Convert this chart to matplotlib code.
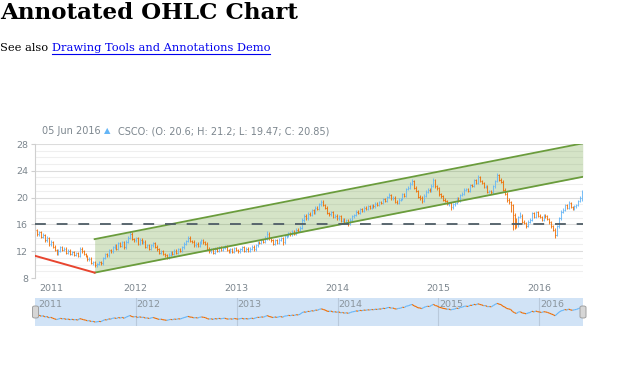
import matplotlib
matplotlib.use("Agg")
import matplotlib.pyplot as plt
import matplotlib.dates as mdates
import matplotlib.transforms as mtrans
from matplotlib.collections import LineCollection
from matplotlib.patches import FancyBboxPatch, Rectangle
import numpy as np
import pandas as pd

# ---------------- data (weekly CSCO) ----------------
opens = [
    15.3, 15.1, 14.5, 14.8, 14.1, 14.4, 13.6, 13.9, 13.0, 13.3,
    12.7, 12.2, 11.7, 12.1, 12.6, 12.2, 12.4, 11.8, 12.1, 11.6,
    11.9, 11.5, 11.7, 11.3, 12.4, 12.0, 11.6, 11.3, 10.8, 10.9,
    10.3, 10.4, 9.9, 10.1, 10.4, 10.2, 11.0, 11.6, 11.4, 12.2,
    12.0, 12.6, 12.9, 12.4, 13.2, 12.8, 13.3, 12.6, 13.4, 14.0,
    14.6, 13.8, 13.6, 13.9, 13.1, 13.7, 13.2, 13.4, 12.7, 12.9,
    12.4, 12.9, 13.2, 12.7, 12.3, 11.8, 12.0, 11.6, 11.4, 11.1,
    11.5, 11.8, 11.6, 12.1, 11.8, 12.3, 12.1, 12.6, 13.1, 13.5,
    14.0, 13.5, 13.4, 12.9, 13.1, 12.8, 13.3, 13.6, 13.3, 13.1,
    12.4, 12.0, 12.3, 11.8, 12.4, 12.1, 12.6, 12.2, 12.5, 12.7,
    12.2, 12.0, 12.3, 11.9, 12.5, 12.2, 12.0, 12.3, 12.6, 12.1,
    12.4, 12.1, 12.4, 12.7, 12.3, 12.9, 13.3, 13.2, 13.6, 13.4,
    13.9, 14.6, 13.9, 13.6, 13.1, 13.6, 13.2, 13.7, 13.9, 13.3,
    14.2, 14.3, 14.7, 14.5, 14.9, 14.6, 15.2, 15.0, 15.5, 16.6,
    17.2, 16.9, 17.6, 17.4, 18.1, 17.7, 18.5, 18.3, 19.0, 19.4,
    18.9, 18.5, 17.7, 17.5, 17.8, 17.1, 17.3, 16.9, 17.2, 16.5,
    16.8, 16.2, 16.6, 16.1, 16.7, 17.2, 17.4, 17.9, 17.7, 18.3,
    18.0, 18.5, 18.3, 18.7, 18.5, 18.9, 18.7, 19.1, 18.9, 19.3,
    19.2, 19.8, 19.5, 20.1, 20.4, 19.9, 20.0, 19.4, 19.2, 19.7,
    19.8, 20.5, 20.3, 21.3, 21.5, 22.1, 22.5, 21.5, 21.0, 20.1,
    20.0, 19.5, 20.3, 20.9, 21.2, 21.0, 21.8, 22.6, 21.7, 21.4,
    20.5, 20.2, 19.7, 19.5, 19.1, 19.2, 18.6, 19.0, 19.2, 19.9,
    19.5, 20.4, 20.6, 21.2, 21.3, 21.0, 21.9, 21.8, 22.6, 22.2,
    23.0, 22.5, 22.2, 21.6, 21.7, 20.9, 21.0, 20.8, 21.7, 22.5,
    23.3, 22.7, 22.4, 21.2, 20.6, 19.6, 19.3, 18.9, 17.4, 16.6,
    16.0, 17.1, 17.3, 16.4, 16.2, 15.8, 16.4, 16.7, 17.7, 17.1,
    17.8, 17.3, 17.1, 16.7, 17.3, 17.2, 16.8, 16.3, 15.7, 15.2,
    14.4, 15.7, 16.9, 17.9, 18.2, 18.9, 18.5, 19.2, 18.6, 18.3,
    18.7, 18.9, 19.5, 20.6,
]
highs = [
    15.6, 15.3, 15.0, 15.0, 14.7, 14.6, 14.2, 14.1, 13.6, 13.5,
    12.9, 12.4, 12.3, 12.8, 12.8, 12.6, 12.6, 12.3, 12.3, 12.1,
    12.1, 11.9, 11.9, 12.6, 12.6, 12.2, 11.8, 11.5, 11.1, 11.1,
    10.6, 10.6, 10.3, 10.6, 10.6, 11.2, 11.8, 11.8, 12.4, 12.4,
    12.8, 13.1, 13.1, 13.4, 13.4, 13.5, 13.5, 13.6, 14.3, 15.0,
    14.8, 14.0, 14.1, 14.1, 13.9, 13.9, 13.6, 13.6, 13.1, 13.1,
    13.1, 13.4, 13.4, 12.9, 12.5, 12.2, 12.2, 11.8, 11.6, 11.7,
    12.0, 12.0, 12.3, 12.3, 12.5, 12.5, 12.8, 13.3, 13.7, 14.3,
    14.2, 13.7, 13.6, 13.3, 13.3, 13.5, 13.8, 13.8, 13.5, 13.3,
    12.6, 12.5, 12.5, 12.6, 12.6, 12.8, 12.8, 12.7, 12.9, 12.9,
    12.4, 12.5, 12.5, 12.7, 12.7, 12.4, 12.5, 12.8, 12.8, 12.6,
    12.6, 12.6, 12.9, 12.9, 13.1, 13.5, 13.5, 13.8, 13.8, 14.2,
    15.0, 14.8, 14.1, 13.8, 13.8, 13.8, 13.9, 14.1, 14.1, 14.4,
    14.6, 14.9, 14.9, 15.1, 15.1, 15.4, 15.4, 15.8, 16.9, 17.5,
    17.5, 17.8, 17.8, 18.3, 18.3, 18.7, 18.7, 19.2, 19.7, 19.6,
    19.1, 18.7, 17.9, 18.0, 18.0, 17.5, 17.5, 17.4, 17.4, 17.0,
    17.0, 16.8, 16.8, 16.9, 17.4, 17.6, 18.1, 18.1, 18.5, 18.5,
    18.7, 18.7, 18.9, 18.9, 19.1, 19.1, 19.3, 19.3, 19.5, 19.5,
    20.0, 20.0, 20.3, 20.7, 20.6, 20.2, 20.2, 19.6, 19.9, 20.0,
    20.7, 20.7, 21.5, 21.7, 22.3, 22.8, 22.7, 21.7, 21.2, 20.4,
    20.2, 20.5, 21.1, 21.4, 21.4, 22.0, 22.9, 22.8, 21.9, 21.6,
    20.7, 20.4, 19.9, 19.7, 19.4, 19.4, 19.2, 19.4, 20.1, 20.1,
    20.6, 20.8, 21.4, 21.5, 21.5, 22.1, 22.1, 22.8, 22.8, 23.3,
    23.2, 22.7, 22.4, 21.9, 21.9, 21.2, 21.2, 21.9, 22.7, 23.6,
    23.5, 22.9, 22.6, 21.4, 20.8, 19.9, 19.5, 19.1, 17.7, 16.9,
    17.3, 17.9, 17.5, 16.6, 16.4, 16.6, 16.9, 17.9, 17.9, 18.0,
    18.0, 17.5, 17.3, 17.5, 17.6, 17.4, 17.0, 16.5, 15.9, 15.4,
    15.9, 17.1, 18.1, 18.4, 19.1, 19.1, 19.5, 19.4, 18.8, 18.9,
    19.1, 19.7, 20.3, 21.2,
]
lows = [
    14.8, 14.3, 14.3, 13.9, 13.9, 13.4, 13.4, 12.8, 12.8, 12.5,
    12.0, 11.5, 11.5, 11.9, 12.0, 12.0, 11.6, 11.6, 11.4, 11.4,
    11.3, 11.3, 11.1, 11.2, 11.8, 11.4, 11.1, 10.6, 10.5, 10.1,
    10.0, 9.7, 9.6, 9.9, 10.0, 10.0, 10.8, 11.2, 11.2, 11.8,
    11.8, 12.4, 12.2, 12.2, 12.6, 12.6, 12.4, 12.4, 13.2, 13.8,
    13.6, 13.4, 13.4, 12.9, 12.9, 13.0, 13.0, 12.5, 12.5, 12.2,
    12.2, 12.7, 12.5, 12.1, 11.6, 11.6, 11.4, 11.2, 10.9, 10.9,
    11.3, 11.4, 11.4, 11.6, 11.6, 11.9, 11.9, 12.4, 12.9, 13.3,
    13.3, 13.2, 12.7, 12.7, 12.6, 12.6, 13.1, 13.1, 12.9, 12.2,
    11.8, 11.8, 11.6, 11.6, 11.9, 11.9, 12.0, 12.0, 12.3, 12.0,
    11.8, 11.8, 11.7, 11.7, 12.0, 11.8, 11.8, 12.1, 11.9, 11.9,
    11.9, 11.9, 12.2, 12.1, 12.1, 12.7, 13.0, 13.0, 13.2, 13.2,
    13.7, 13.7, 13.4, 12.9, 12.9, 13.0, 13.0, 13.5, 12.9, 13.1,
    13.9, 14.1, 14.3, 14.3, 14.4, 14.4, 14.8, 14.8, 15.3, 16.4,
    16.7, 16.7, 17.2, 17.2, 17.5, 17.5, 18.1, 18.1, 18.8, 18.7,
    18.3, 17.5, 17.3, 17.3, 16.9, 16.9, 16.7, 16.7, 16.3, 16.3,
    16.0, 16.0, 15.8, 15.9, 16.5, 17.0, 17.2, 17.5, 17.5, 17.8,
    17.8, 18.1, 18.1, 18.3, 18.3, 18.5, 18.5, 18.7, 18.7, 19.0,
    19.0, 19.3, 19.3, 19.9, 19.7, 19.7, 19.2, 19.0, 19.0, 19.5,
    19.6, 20.1, 20.1, 21.1, 21.3, 21.9, 21.3, 20.8, 19.9, 19.7,
    19.2, 19.3, 20.1, 20.7, 20.8, 20.8, 21.6, 21.5, 21.2, 20.3,
    20.0, 19.5, 19.3, 18.9, 18.8, 18.1, 18.3, 18.8, 19.0, 19.3,
    19.3, 20.2, 20.4, 21.0, 20.8, 20.8, 21.6, 21.6, 22.0, 22.0,
    22.3, 22.0, 21.4, 21.4, 20.7, 20.7, 20.5, 20.6, 21.5, 22.3,
    22.5, 22.2, 21.0, 20.4, 19.4, 19.1, 17.9, 15.2, 15.3, 15.4,
    15.6, 16.9, 16.2, 16.0, 15.4, 15.6, 16.2, 16.5, 16.9, 16.9,
    17.1, 16.9, 16.5, 16.5, 17.0, 16.6, 16.1, 15.5, 15.0, 13.9,
    14.2, 15.5, 16.7, 17.7, 18.0, 18.3, 18.3, 18.4, 18.1, 18.1,
    18.5, 18.7, 19.3, 19.47,
]
closes = [
    15.1, 14.5, 14.8, 14.1, 14.4, 13.6, 13.9, 13.0, 13.3, 12.7,
    12.2, 11.7, 12.1, 12.6, 12.2, 12.4, 11.8, 12.1, 11.6, 11.9,
    11.5, 11.7, 11.3, 12.4, 12.0, 11.6, 11.3, 10.8, 10.9, 10.3,
    10.4, 9.9, 10.1, 10.4, 10.2, 11.0, 11.6, 11.4, 12.2, 12.0,
    12.6, 12.9, 12.4, 13.2, 12.8, 13.3, 12.6, 13.4, 14.0, 14.6,
    13.8, 13.6, 13.9, 13.1, 13.7, 13.2, 13.4, 12.7, 12.9, 12.4,
    12.9, 13.2, 12.7, 12.3, 11.8, 12.0, 11.6, 11.4, 11.1, 11.5,
    11.8, 11.6, 12.1, 11.8, 12.3, 12.1, 12.6, 13.1, 13.5, 14.0,
    13.5, 13.4, 12.9, 13.1, 12.8, 13.3, 13.6, 13.3, 13.1, 12.4,
    12.0, 12.3, 11.8, 12.4, 12.1, 12.6, 12.2, 12.5, 12.7, 12.2,
    12.0, 12.3, 11.9, 12.5, 12.2, 12.0, 12.3, 12.6, 12.1, 12.4,
    12.1, 12.4, 12.7, 12.3, 12.9, 13.3, 13.2, 13.6, 13.4, 13.9,
    14.6, 13.9, 13.6, 13.1, 13.6, 13.2, 13.7, 13.9, 13.3, 14.2,
    14.3, 14.7, 14.5, 14.9, 14.6, 15.2, 15.0, 15.5, 16.6, 17.2,
    16.9, 17.6, 17.4, 18.1, 17.7, 18.5, 18.3, 19.0, 19.4, 18.9,
    18.5, 17.7, 17.5, 17.8, 17.1, 17.3, 16.9, 17.2, 16.5, 16.8,
    16.2, 16.6, 16.1, 16.7, 17.2, 17.4, 17.9, 17.7, 18.3, 18.0,
    18.5, 18.3, 18.7, 18.5, 18.9, 18.7, 19.1, 18.9, 19.3, 19.2,
    19.8, 19.5, 20.1, 20.4, 19.9, 20.0, 19.4, 19.2, 19.7, 19.8,
    20.5, 20.3, 21.3, 21.5, 22.1, 22.5, 21.5, 21.0, 20.1, 20.0,
    19.5, 20.3, 20.9, 21.2, 21.0, 21.8, 22.6, 21.7, 21.4, 20.5,
    20.2, 19.7, 19.5, 19.1, 19.2, 18.6, 19.0, 19.2, 19.9, 19.5,
    20.4, 20.6, 21.2, 21.3, 21.0, 21.9, 21.8, 22.6, 22.2, 23.0,
    22.5, 22.2, 21.6, 21.7, 20.9, 21.0, 20.8, 21.7, 22.5, 23.3,
    22.7, 22.4, 21.2, 20.6, 19.6, 19.3, 18.9, 17.4, 16.6, 16.0,
    17.1, 17.3, 16.4, 16.2, 15.8, 16.4, 16.7, 17.7, 17.1, 17.8,
    17.3, 17.1, 16.7, 17.3, 17.2, 16.8, 16.3, 15.7, 15.2, 14.4,
    15.7, 16.9, 17.9, 18.2, 18.9, 18.5, 19.2, 18.6, 18.3, 18.7,
    18.9, 19.5, 20.0, 20.85,
]
dates = pd.date_range("2011-01-02", periods=len(closes), freq="W-SUN")

# annotations (date, value)
trend_dates = ["2011-01-02", "2011-08-05"]
trend_values = [11.3, 8.8]
channel_dates = ["2011-08-05", "2016-06-07"]
channel_low = [8.8, 23.1]
channel_high = [13.8, 28.1]
hline_value = 16

year_labels = ["2011", "2012", "2013", "2014", "2015", "2016"]
y_ticks = [8, 12, 16, 20, 24, 28]

RISE = "#64b5f6"
FALL = "#ef6c00"
GRAY = "#7c868e"

# ---------------- figure ----------------
W, H = 620, 367
fig = plt.figure(figsize=(W / 100, H / 100), dpi=100)
fig.patch.set_facecolor("white")

def fx(px):
    return px / W

def fy(py):
    return 1 - py / H

fig.text(fx(0), fy(13), "Annotated OHLC Chart", family="DejaVu Serif",
         weight="bold", fontsize=16.6, va="center", ha="left", color="black")
t1 = fig.text(fx(0), fy(48), "See also ", family="DejaVu Serif", fontsize=8.2,
              va="center", ha="left", color="black")
fig.canvas.draw()
bb = t1.get_window_extent()
link = fig.text(bb.x1 / W, fy(48), "Drawing Tools and Annotations Demo",
                family="DejaVu Serif", fontsize=8.2, va="center", ha="left",
                color="#0000ee")
fig.canvas.draw()
lb = link.get_window_extent()
fig.add_artist(plt.Line2D([lb.x0 / W, lb.x1 / W], [fy(54), fy(54)],
                          color="#0000ee", lw=0.8))

# ---------------- main plot ----------------
L, R, T, B = 35, 583, 144, 278
ax = fig.add_axes([fx(L), fy(B), (R - L) / W, (B - T) / H])
xd = mdates.date2num(dates)
ax.set_xlim(xd[0] - 1, xd[-1] + 3)
ax.set_ylim(8, 28)

for v in np.arange(8, 29, 1):
    major = (v % 4 == 0)
    ax.axhline(v, color="#dcdcdc" if major else "#efefef", lw=0.8, zorder=0)

# channel annotation
cx = mdates.datestr2num(channel_dates)
ax.fill_between(cx, channel_low, channel_high, color="#689f38", alpha=0.28,
                lw=0, zorder=1)
ax.plot(cx, channel_low, color="#6a9c3c", lw=1.3, zorder=3)
ax.plot(cx, channel_high, color="#6a9c3c", lw=1.3, zorder=3)
# trend line
ax.plot(mdates.datestr2num(trend_dates), trend_values, color="#e8452f",
        lw=1.4, zorder=3)
# dashed horizontal line
ax.axhline(hline_value, color="#4f5d66", lw=1.3, dashes=(6, 6), zorder=3)

# OHLC bars
segs, cols = [], []
w = 2.2
for x, o, h, l, c in zip(xd, opens, highs, lows, closes):
    col = RISE if c >= o else FALL
    segs += [[(x, l), (x, h)], [(x - w, o), (x, o)], [(x, c), (x + w, c)]]
    cols += [col] * 3
ax.add_collection(LineCollection(segs, colors=cols, linewidths=0.75,
                                 alpha=0.85, zorder=2))

for s in ["top", "right", "bottom"]:
    ax.spines[s].set_visible(False)
ax.spines["left"].set_color("#cfcfcf")
ax.spines["left"].set_linewidth(0.8)
ax.set_yticks(y_ticks)
ax.tick_params(axis="y", length=3, color="#cfcfcf", labelcolor=GRAY,
               labelsize=6.8, pad=2)
year_pos = [xd[0]] + [mdates.datestr2num(f"{y}-01-01") for y in year_labels[1:]]
ax.set_xticks(year_pos)
ax.set_xticklabels(year_labels)
ax.tick_params(axis="x", length=0, labelcolor=GRAY, labelsize=6.8, pad=4)
first = ax.get_xticklabels()[0]
first.set_horizontalalignment("left")
first.set_transform(first.get_transform() +
                    mtrans.ScaledTranslation(4 / 100, 0, fig.dpi_scale_trans))

# legend line
fig.text(fx(42), fy(131), "05 Jun 2016", color=GRAY, fontsize=7, va="center", ha="left")
fig.text(fx(107), fy(130.5), "\u25B2", color=RISE, fontsize=6, va="center", ha="center")
fig.text(fx(118), fy(131), "CSCO: (O: 20.6; H: 21.2; L: 19.47; C: 20.85)",
         color=GRAY, fontsize=7, va="center", ha="left")

# ---------------- scroller ----------------
ST, SB = 298, 326
sx = fig.add_axes([fx(L), fy(SB), (R - L) / W, (SB - ST) / H])
sx.set_xlim(ax.get_xlim())
sx.set_ylim(7.1, 27.1)
sx.add_patch(Rectangle((0, 0), 1, 1, transform=sx.transAxes,
                       facecolor="#d1e3f6", edgecolor="none", zorder=0))
for yp, lab in zip(year_pos, year_labels):
    if lab != "2011":
        sx.axvline(yp, color="#b9c9db", lw=0.8, zorder=1)
    sx.text(yp + (12 if lab == "2011" else 3), 22.3, lab, color="#8a949c",
            fontsize=6.8, va="center", ha="left")
ssegs, scols = [], []
for i in range(1, len(closes)):
    ssegs.append([(xd[i - 1], closes[i - 1]), (xd[i], closes[i])])
    scols.append(RISE if closes[i] >= opens[i] else FALL)
sx.add_collection(LineCollection(ssegs, colors=scols, linewidths=0.8, zorder=2))
sx.axis("off")

for hx in (L + 0.5, R):
    fig.add_artist(FancyBboxPatch((fx(hx - 3), fy(318)), 6 / W, 12 / H,
                                  boxstyle="round,pad=0,rounding_size=0.004",
                                  transform=fig.transFigure,
                                  facecolor="#d6d6d6", edgecolor="#a0a0a0", lw=0.7))

fig.savefig("out.png", dpi=100)
